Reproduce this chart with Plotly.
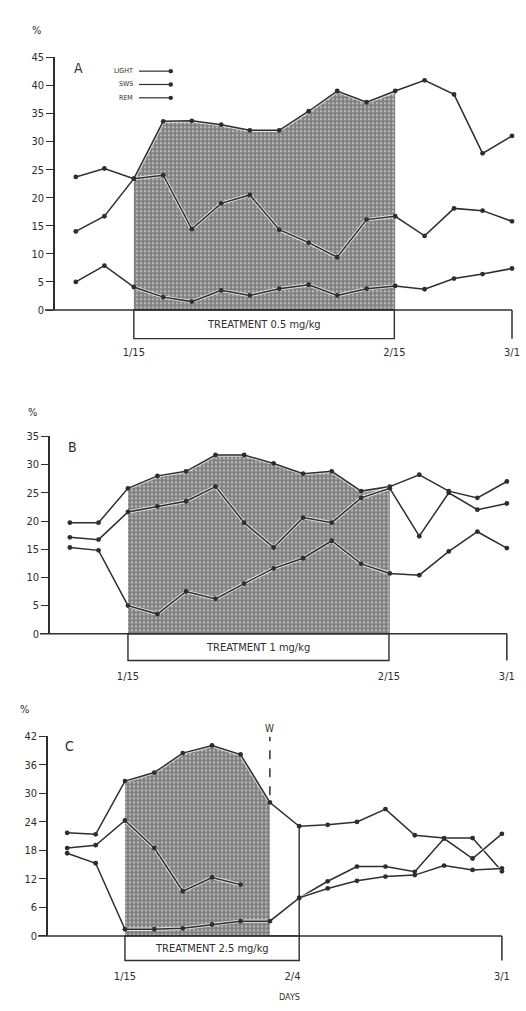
import plotly.graph_objects as go

W, H = 526, 1011

# ---------------- data ----------------
days = [-6.9, -3.5, 0, 3.5, 6.9, 10.4, 13.8, 17.3, 20.8, 24.2, 27.7, 31.1, 34.6, 38.1, 41.5, 45]

a_light = [14.0, 16.7, 23.4, 33.6, 33.7, 33.0, 32.0, 32.0, 35.4, 39.0, 37.0, 39.0, 40.9, 38.4, 27.9, 31.0]
a_sws   = [23.7, 25.2, 23.4, 24.0, 14.4, 19.0, 20.5, 14.3, 12.0, 9.4, 16.1, 16.7, 13.2, 18.1, 17.7, 15.8]
a_rem   = [5.0, 7.9, 4.1, 2.3, 1.5, 3.5, 2.6, 3.8, 4.5, 2.6, 3.8, 4.3, 3.7, 5.6, 6.4, 7.4]

b_light = [19.7, 19.7, 25.8, 28.0, 28.8, 31.7, 31.7, 30.2, 28.4, 28.8, 25.3, 26.1, 28.2, 25.3, 24.1, 27.0]
b_sws   = [17.1, 16.7, 21.6, 22.6, 23.5, 26.1, 19.7, 15.3, 20.6, 19.7, 24.1, 25.8, 17.3, 25.0, 22.0, 23.1]
b_rem   = [15.3, 14.8, 5.0, 3.5, 7.5, 6.2, 8.9, 11.6, 13.4, 16.5, 12.4, 10.7, 10.4, 14.6, 18.1, 15.2]

c_light = [21.7, 21.4, 32.6, 34.4, 38.5, 40.1, 38.2, 28.1, 23.1, 23.4, 24.0, 26.7, 21.2, 20.6, 20.6, 13.6]
c_sws   = [18.5, 19.1, 24.3, 18.5, 9.4, 12.3, 10.8, None, 8.0, 11.5, 14.6, 14.6, 13.5, 20.5, 16.3, 21.5]
c_rem   = [17.4, 15.3, 1.4, 1.4, 1.6, 2.4, 3.1, 3.1, 8.0, 10.0, 11.6, 12.5, 12.8, 14.8, 13.9, 14.2]

series_names = ["LIGHT", "SWS", "REM"]
treat_a = (2, 11)   # index range of shaded treatment period
treat_b = (2, 11)
treat_c = (2, 7)

panels = [
    dict(key="", letter="A", light=a_light, sws=a_sws, rem=a_rem, treat=treat_a,
         xdom=(55, 522), xr=(-9.38, 46.19), ydom=(308, 52), yr=(0, 45), dt=5,
         xt=[0, 31, 45], xtt=["1/15", "2/15", "3/1"], box_end=31, box_b=337, so=34,
         label="TREATMENT 0.5 mg/kg", pct=(36, 25), let=(78, 63)),
    dict(key="2", letter="B", light=b_light, sws=b_sws, rem=b_rem, treat=treat_b,
         xdom=(50, 522), xr=(-9.26, 46.8), ydom=(636, 436), yr=(0, 35), dt=5,
         xt=[0, 31, 45], xtt=["1/15", "2/15", "3/1"], box_end=31, box_b=663, so=34,
         label="TREATMENT 1 mg/kg", pct=(32, 412), let=(72, 447)),
    dict(key="3", letter="C", light=c_light, sws=c_sws, rem=c_rem, treat=treat_c,
         xdom=(48, 522), xr=(-9.19, 47.4), ydom=(942, 740), yr=(0, 42), dt=6,
         xt=[0, 20, 45], xtt=["1/15", "2/4", "3/1"], box_end=20.8, box_b=967, so=32,
         label="TREATMENT 2.5 mg/kg", pct=(24, 713), let=(69, 750)),
]

INK = "#2e2e2e"
FONT = "Liberation Sans Narrow, DejaVu Sans Condensed, Arial Narrow, sans-serif"

fig = go.Figure()
shapes, annos = [], []
layout = {}


def px(x):
    return x / W


def py(y):
    return 1 - y / H


def note(x, y, text, size, xref="paper", yref="paper", xanchor="center"):
    return dict(xref=xref, yref=yref, x=x, y=y, text=text, showarrow=False,
                xanchor=xanchor, yanchor="middle",
                font=dict(family=FONT, size=size, color=INK))


for p in panels:
    k = p["key"]
    xa, ya = "x" + k, "y" + k
    i0, i1 = p["treat"]
    # shaded treatment area under the top curve
    fig.add_trace(go.Scatter(
        x=days[i0:i1 + 1], y=p["light"][i0:i1 + 1], xaxis=xa, yaxis=ya,
        mode="lines", line=dict(width=0), fill="tozeroy",
        fillcolor="#7e7e7e",
        fillpattern=dict(shape=".", bgcolor="#7e7e7e", fgcolor="#b8b8b8",
                         size=4, solidity=0.35, fillmode="replace"),
        showlegend=False, hoverinfo="skip"))
    for s in ["light", "sws", "rem"]:
        fig.add_trace(go.Scatter(
            x=days, y=p[s], xaxis=xa, yaxis=ya, mode="lines",
            line=dict(color="rgba(255,255,255,0.7)", width=3.4),
            showlegend=False, hoverinfo="skip", connectgaps=False))
        fig.add_trace(go.Scatter(
            x=days, y=p[s], xaxis=xa, yaxis=ya, mode="lines+markers",
            line=dict(color=INK, width=1.5), marker=dict(color=INK, size=4.8),
            name=s.upper(), showlegend=False, connectgaps=False))

    x0d, x1d = p["xdom"]
    r0, r1 = p["xr"]

    def dx(d, x0d=x0d, x1d=x1d, r0=r0, r1=r1):
        return px(x0d + (d - r0) / (r1 - r0) * (x1d - x0d))

    layout["xaxis" + k] = dict(domain=[px(x0d), px(x1d)], range=[r0, r1], anchor=ya,
                               showline=False, showgrid=False, zeroline=False, ticks="",
                               tickvals=p["xt"], ticktext=p["xtt"], ticklabelstandoff=p["so"],
                               tickfont=dict(family=FONT, size=11, color=INK), fixedrange=True)
    yt = list(range(p["yr"][0], p["yr"][1] + 1, p["dt"]))
    layout["yaxis" + k] = dict(domain=[py(p["ydom"][0]), py(p["ydom"][1])], range=list(p["yr"]),
                               anchor=xa, showline=True, linecolor=INK, linewidth=1.5,
                               ticks="outside", ticklen=7, tickwidth=1.4, tickcolor=INK,
                               tickvals=yt, showgrid=False, zeroline=False,
                               tickfont=dict(family=FONT, size=11, color=INK), fixedrange=True)

    y0p = py(p["ydom"][0])
    # x axis baseline with bracket at 3/1
    shapes.append(dict(type="line", xref="paper", yref="paper",
                       x0=px(x0d - 10), x1=dx(p["xt"][-1]), y0=y0p, y1=y0p,
                       line=dict(color=INK, width=1.5)))
    shapes.append(dict(type="line", xref="paper", yref="paper",
                       x0=dx(p["xt"][-1]), x1=dx(p["xt"][-1]), y0=y0p, y1=py(p["box_b"]),
                       line=dict(color=INK, width=1.5)))
    # treatment box
    shapes.append(dict(type="rect", xref="paper", yref="paper",
                       x0=dx(0), x1=dx(p["box_end"]), y0=py(p["box_b"]), y1=y0p,
                       line=dict(color=INK, width=1.4), fillcolor="rgba(0,0,0,0)"))
    annos.append(note((dx(0) + dx(p["box_end"])) / 2, (y0p + py(p["box_b"])) / 2, p["label"], 11))
    annos.append(note(px(p["pct"][0]), py(p["pct"][1]), "%", 11))
    annos.append(note(px(p["let"][0]), py(p["let"][1]), p["letter"], 14))

# panel C: withdrawal marker and line at 2/4
wi = treat_c[1]
shapes.append(dict(type="line", xref="x3", yref="y3", x0=days[wi], x1=days[wi],
                   y0=c_light[wi] + 1.5, y1=42, line=dict(color=INK, width=1.5, dash="dash")))
shapes.append(dict(type="line", xref="x3", yref="y3", x0=days[wi + 1], x1=days[wi + 1],
                   y0=0, y1=c_light[wi + 1], line=dict(color=INK, width=1.4)))
annos.append(note(days[wi], py(732), "W", 10, xref="x3"))
annos.append(note(px(289), py(1004), "DAYS", 9))

# legend in panel A
for j, nm in enumerate(series_names):
    yy = py(66 + j * 13.5)
    annos.append(note(px(135), yy, nm, 7, xanchor="right"))
    shapes.append(dict(type="line", xref="paper", yref="paper", x0=px(139), x1=px(171),
                       y0=yy, y1=yy, line=dict(color=INK, width=1.2)))
    shapes.append(dict(type="circle", xref="paper", yref="paper", x0=px(168.5), x1=px(173),
                       y0=yy - 2.2 / H, y1=yy + 2.2 / H, fillcolor=INK, line=dict(width=0)))

fig.update_layout(width=W, height=H, margin=dict(l=0, r=0, t=0, b=0),
                  paper_bgcolor="white", plot_bgcolor="rgba(0,0,0,0)",
                  shapes=shapes, annotations=annos, showlegend=False, **layout)

fig.write_html("out.html", config={"displayModeBar": False},
               post_script="document.body.style.margin='0';document.body.style.padding='0';"
                           "document.documentElement.style.overflow='hidden';")
